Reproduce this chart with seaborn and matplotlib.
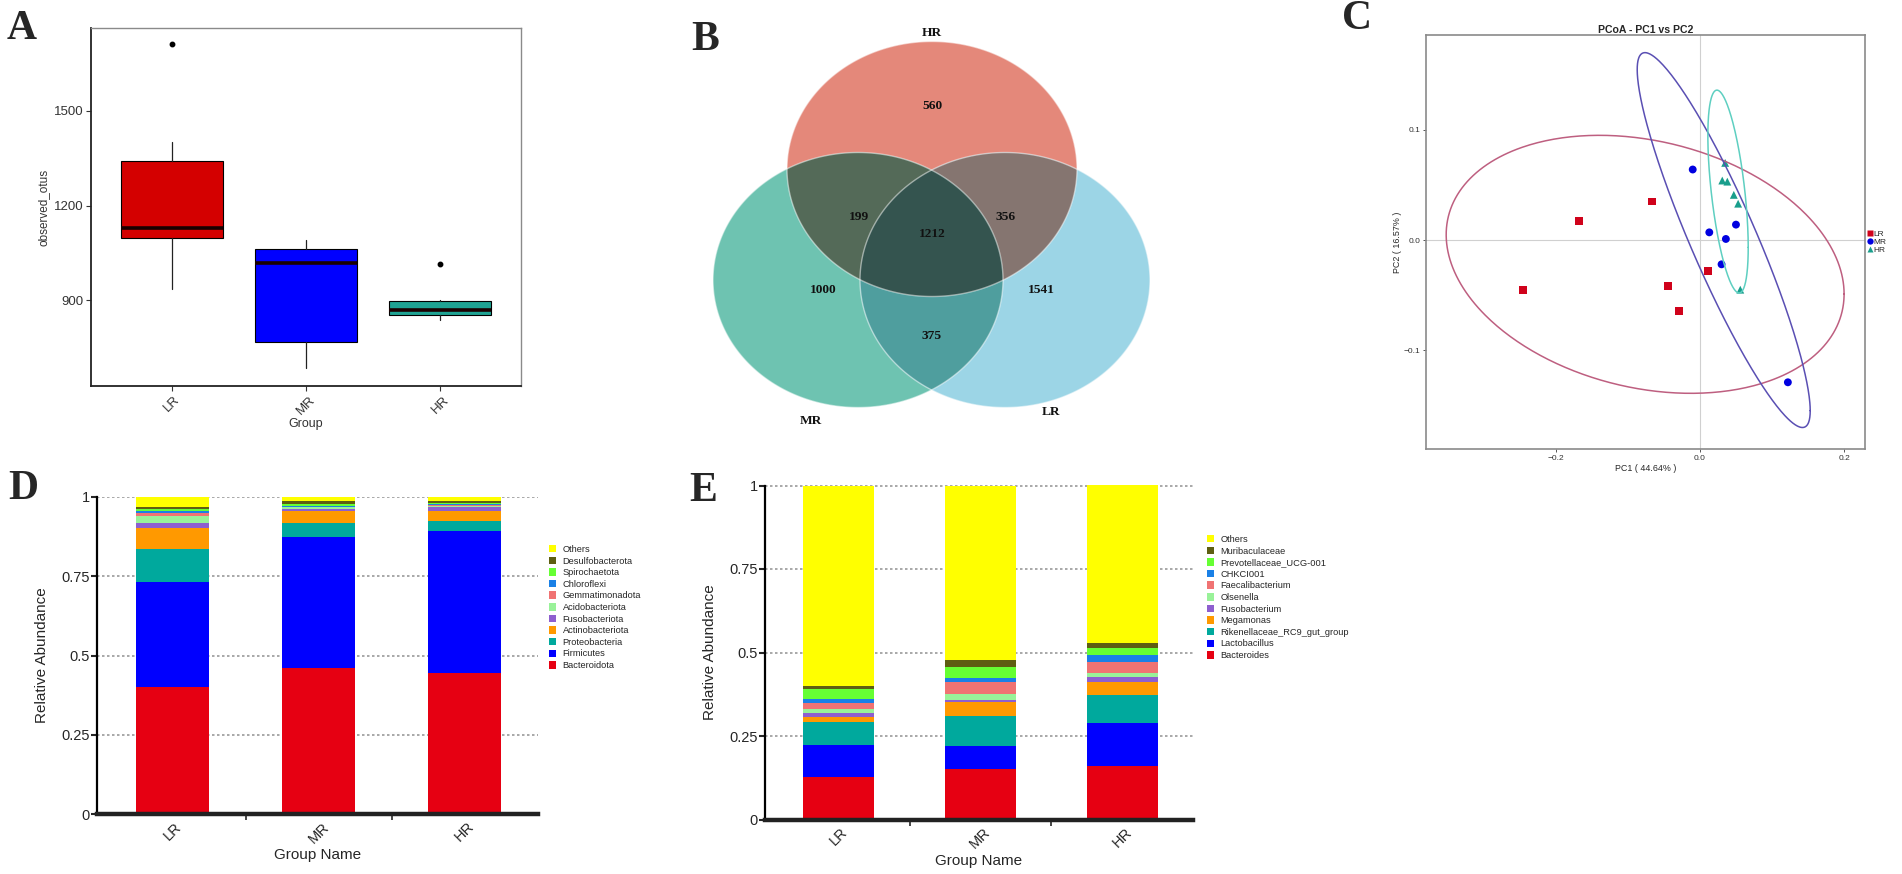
import matplotlib.pyplot as plt
import numpy as np
import pandas as pd
import seaborn as sns
from matplotlib.patches import Polygon, Patch
from matplotlib.path import Path

sns.set_style('white')
plt.rcParams['font.family'] = ['Liberation Sans', 'DejaVu Sans']

# ---------------- data ----------------
groups = ['LR', 'MR', 'HR']
group_colors = ['#D40000', '#0000FF', '#1FA393']

# A: observed_otus box summary
otus_low = [934, 684, 838]
otus_q1 = [1096, 769, 852]
otus_median = [1128, 1018, 870]
otus_q3 = [1342, 1063, 896]
otus_high = [1400, 1090, 900]
otus_outliers = [[1712], [], [1015]]

# B: Venn counts
venn_regions = ['HR', 'MR', 'LR', 'HR&MR', 'HR&LR', 'MR&LR', 'HR&MR&LR']
venn_counts = [560, 1000, 1541, 199, 356, 375, 1212]

# C: PCoA
pc1_lr = [-0.168, -0.067, -0.245, -0.044, -0.029, 0.011]
pc2_lr = [0.017, 0.035, -0.045, -0.042, -0.064, -0.028]
pc1_mr = [-0.010, 0.013, 0.036, 0.050, 0.030, 0.122]
pc2_mr = [0.064, 0.007, 0.001, 0.014, -0.022, -0.129]
pc1_hr = [0.035, 0.031, 0.038, 0.047, 0.053, 0.056]
pc2_hr = [0.070, 0.054, 0.053, 0.041, 0.033, -0.045]
# group ellipses: centre, half range in x / y, correlation
ell_cx = [-0.076, 0.033, 0.039]
ell_cy = [-0.022, 0.000, 0.044]
ell_sx = [0.276, 0.120, 0.028]
ell_sy = [0.117, 0.170, 0.092]
ell_r = [-0.23, -0.91, -0.55]

# D: phylum level (bottom to top)
phyla = ['Bacteroidota', 'Firmicutes', 'Proteobacteria', 'Actinobacteriota',
         'Fusobacteriota', 'Acidobacteriota', 'Gemmatimonadota', 'Chloroflexi',
         'Spirochaetota', 'Desulfobacterota', 'Others']
phyla_lr = [0.400, 0.333, 0.104, 0.065, 0.017, 0.020, 0.010, 0.007, 0.006, 0.007, 0.031]
phyla_mr = [0.460, 0.415, 0.042, 0.040, 0.006, 0.004, 0.003, 0.003, 0.004, 0.010, 0.013]
phyla_hr = [0.446, 0.447, 0.031, 0.033, 0.011, 0.005, 0.003, 0.002, 0.004, 0.006, 0.012]

# E: genus level (bottom to top)
genera = ['Bacteroides', 'Lactobacillus', 'Rikenellaceae_RC9_gut_group', 'Megamonas',
          'Fusobacterium', 'Olsenella', 'Faecalibacterium', 'CHKCI001',
          'Prevotellaceae_UCG-001', 'Muribaculaceae', 'Others']
genera_lr = [0.128, 0.095, 0.068, 0.017, 0.010, 0.012, 0.020, 0.011, 0.030, 0.010, 0.599]
genera_mr = [0.151, 0.070, 0.090, 0.040, 0.007, 0.018, 0.035, 0.012, 0.033, 0.022, 0.522]
genera_hr = [0.161, 0.128, 0.085, 0.037, 0.015, 0.012, 0.033, 0.022, 0.020, 0.015, 0.472]

taxa_colors = ['#E60012', '#0000FF', '#00A99D', '#FF9900', '#8E5FCF', '#99F299',
               '#F07373', '#1A80E6', '#66FF33', '#5E5E12', '#FFFF00']

# ---------------- layout ----------------
W, H = 1902, 874


def px_rect(x0, y0, x1, y1):
    return [x0 / W, 1 - y1 / H, (x1 - x0) / W, (y1 - y0) / H]


fig = plt.figure(figsize=(W / 100, H / 100), dpi=100)

# overlay in pixel coords for panel letters and the Venn diagram
ov = fig.add_axes([0, 0, 1, 1], zorder=-1)
ov.set_xlim(0, W)
ov.set_ylim(H, 0)
ov.axis('off')

letter_font = dict(family='Liberation Serif', fontweight='bold', fontsize=30,
                   ha='center', va='center')
for lab, (lx, ly) in zip('ABCDE', [(22, 29), (705, 40), (1357, 19), (23, 489), (703, 491)]):
    ov.text(lx, ly, lab, **letter_font)

# ---------------- A ----------------
axa = fig.add_axes(px_rect(91, 28, 521, 386))
stats = []
for i in range(3):
    stats.append(dict(whislo=otus_low[i], q1=otus_q1[i], med=otus_median[i],
                      q3=otus_q3[i], whishi=otus_high[i], fliers=otus_outliers[i]))
bp = axa.bxp(stats, positions=range(3), widths=0.76, patch_artist=True, showcaps=False,
             boxprops=dict(linewidth=0.8, edgecolor='black'),
             medianprops=dict(color='#1a0000', linewidth=2.6),
             whiskerprops=dict(linewidth=0.9, color='#222222'),
             flierprops=dict(marker='o', markersize=3.2, markerfacecolor='black',
                             markeredgecolor='black'))
for patch, c in zip(bp['boxes'], group_colors):
    patch.set_facecolor(c)
axa.set_xlim(-0.6, 2.6)
axa.set_ylim(628, 1763)
axa.set_yticks([900, 1200, 1500])
axa.set_xticks(range(3), groups, rotation=45, ha='center')
axa.tick_params(labelsize=9.5, length=3.5, width=0.8, color='#333333',
                labelcolor='#333333', pad=2, direction='out', bottom=True, left=True)
axa.set_ylabel('observed_otus', fontsize=8.5, color='#333333', labelpad=3)
axa.set_xlabel('Group', fontsize=9, color='#333333', labelpad=1)
for side in ['top', 'right']:
    axa.spines[side].set_color('#8a8a8a')
    axa.spines[side].set_linewidth(1.0)
for side in ['left', 'bottom']:
    axa.spines[side].set_color('#222222')
    axa.spines[side].set_linewidth(1.3)

# ---------------- B (Venn) ----------------
venn_centers = {'HR': (932, 169), 'MR': (858, 280), 'LR': (1005, 280)}
venn_w, venn_h = 290, 255
solo_colors = {'HR': '#E4887A', 'MR': '#6EC3B1', 'LR': '#9CD5E6'}
tt = np.linspace(0, 2 * np.pi, 720, endpoint=False)


def ell_pts(name):
    cx, cy = venn_centers[name]
    return np.column_stack([cx + venn_w / 2 * np.cos(tt), cy + venn_h / 2 * np.sin(tt)])


def ell_patch(name, **kw):
    return Polygon(ell_pts(name), closed=True, transform=ov.transData, **kw)


for name in ['HR', 'MR', 'LR']:
    ov.add_patch(ell_patch(name, facecolor=solo_colors[name], edgecolor='none'))

for a, b, col in [('HR', 'LR', '#857570'), ('MR', 'LR', '#4F9E9E')]:
    p = ell_patch(b, facecolor=col, edgecolor='none')
    ov.add_patch(p)
    p.set_clip_path(ell_patch(a))

pa, pb = ell_pts('HR'), ell_pts('MR')
inter = np.vstack([pa[Path(pb).contains_points(pa)], pb[Path(pa).contains_points(pb)]])
ctr = inter.mean(axis=0)
inter = inter[np.argsort(np.arctan2(inter[:, 1] - ctr[1], inter[:, 0] - ctr[0]))]
ov.add_patch(Polygon(inter, closed=True, facecolor='#546A58', edgecolor='none'))
tri = Polygon(inter, closed=True, facecolor='#34544F', edgecolor='none')
ov.add_patch(tri)
tri.set_clip_path(ell_patch('LR'))

for name in ['HR', 'MR', 'LR']:
    ov.add_patch(ell_patch(name, facecolor='none', edgecolor='white', alpha=0.5, linewidth=1))

venn_font = dict(family='Liberation Serif', fontweight='bold', fontsize=9.6,
                 ha='center', va='center', color='#111111')
count_pos = {'HR': (932, 106), 'MR': (823, 290), 'LR': (1041, 290), 'HR&MR': (859, 217),
             'HR&LR': (1006, 217), 'MR&LR': (932, 336), 'HR&MR&LR': (932, 234)}
for reg, cnt in zip(venn_regions, venn_counts):
    ov.text(*count_pos[reg], str(cnt), **venn_font)
for lab, pos in [('HR', (932, 33)), ('MR', (811, 421)), ('LR', (1051, 412))]:
    ov.text(*pos, lab, **venn_font)

# ---------------- C (PCoA) ----------------
axc = fig.add_axes(px_rect(1426, 35, 1865, 449))
pcoa = pd.DataFrame({'PC1': pc1_lr + pc1_mr + pc1_hr,
                     'PC2': pc2_lr + pc2_mr + pc2_hr,
                     'Group': np.repeat(groups, 6)})
axc.axhline(0, color='#d0d0d0', lw=0.8, zorder=0)
axc.axvline(0, color='#d0d0d0', lw=0.8, zorder=0)
ell_colors = ['#BE5F80', '#5A4FB3', '#5ECFC1']
t = np.linspace(0, 2 * np.pi, 400)
for i in range(3):
    ex = ell_cx[i] + ell_sx[i] * np.cos(t)
    ey = ell_cy[i] + ell_sy[i] * (ell_r[i] * np.cos(t) + np.sqrt(1 - ell_r[i] ** 2) * np.sin(t))
    axc.plot(ex, ey, color=ell_colors[i], lw=1.1)
sns.scatterplot(data=pcoa, x='PC1', y='PC2', hue='Group', style='Group', hue_order=groups,
                style_order=groups, markers={'LR': 's', 'MR': 'o', 'HR': '^'},
                palette=['#D0021B', '#0000E0', '#199E8C'], s=32, edgecolor='none', ax=axc)
axc.set_xlim(-0.38, 0.229)
axc.set_ylim(-0.1895, 0.186)
axc.set_xticks([-0.2, 0.0, 0.2])
axc.set_yticks([-0.1, 0.0, 0.1])
axc.tick_params(labelsize=6, length=2.5, width=0.7, pad=1.5, color='#555555',
                labelcolor='#333333', bottom=True, left=True)
axc.set_xlabel('PC1 ( 44.64% )', fontsize=6.4, labelpad=2)
axc.set_ylabel('PC2 ( 16.57% )', fontsize=6.4, labelpad=1)
axc.set_title('PCoA - PC1 vs PC2', fontsize=7.6, fontweight='bold', pad=1.5)
for sp in axc.spines.values():
    sp.set_color('#8a8a8a')
    sp.set_linewidth(1.2)
sns.move_legend(axc, 'center left', bbox_to_anchor=(1.0, 0.5), frameon=False, title=None,
                fontsize=6, markerscale=0.8, handletextpad=0.05, labelspacing=0.05,
                borderaxespad=0.1, borderpad=0, handlelength=0.9)


# ---------------- D / E stacked bars ----------------
def stacked_panel(rect, names, lr, mr, hr, legend_xy):
    ax = fig.add_axes(px_rect(*rect))
    df = pd.DataFrame({'pos': np.repeat([0, 1, 2], len(names)),
                       'Taxon': names * 3,
                       'Abundance': lr + mr + hr})
    # seaborn stacks the first hue level on top, so feed the order top-down
    sns.histplot(data=df, x='pos', weights='Abundance', hue='Taxon', hue_order=names[::-1],
                 palette=taxa_colors[::-1], multiple='stack', discrete=True, shrink=0.5,
                 alpha=1, linewidth=0, legend=False, ax=ax)
    ax.set_xlim(-0.52, 2.5)
    ax.set_ylim(0, 1)
    ax.set_yticks([0, 0.25, 0.5, 0.75, 1], ['0', '0.25', '0.5', '0.75', '1'])
    ax.set_xticks([0, 1, 2], groups, rotation=45, ha='center')
    ax.set_xticks([0.5, 1.5], minor=True)
    ax.tick_params(axis='x', which='major', length=0, labelsize=10.5, pad=4)
    ax.tick_params(axis='x', which='minor', length=4, width=1.2, bottom=True)
    ax.tick_params(axis='y', length=4, width=1.5, labelsize=10.5, pad=1, left=True)
    ax.yaxis.grid(True, linestyle=(0, (1.5, 1.5)), color='#9a9a9a', lw=1.2)
    ax.xaxis.grid(False)
    ax.set_axisbelow(True)
    for side in ['top', 'right']:
        ax.spines[side].set_visible(False)
    ax.spines['left'].set_linewidth(1.6)
    ax.spines['left'].set_color('black')
    ax.spines['bottom'].set_linewidth(3.2)
    ax.spines['bottom'].set_color('#222222')
    ax.set_ylabel('Relative Abundance', fontsize=11, labelpad=9)
    ax.set_xlabel('Group Name', fontsize=11, labelpad=2)
    handles = [Patch(facecolor=c, edgecolor='none') for c in taxa_colors][::-1]
    ax.legend(handles, names[::-1], loc='upper left',
              bbox_to_anchor=(legend_xy[0] / W, 1 - legend_xy[1] / H),
              bbox_transform=fig.transFigure, frameon=False, fontsize=6.7,
              handlelength=0.75, handleheight=0.85, handletextpad=0.7,
              labelspacing=0.28, borderpad=0, borderaxespad=0)
    return ax


stacked_panel((97, 497, 537.6, 814), phyla, phyla_lr, phyla_mr, phyla_hr, (549, 545))
stacked_panel((765, 485.5, 1193, 819.5), genera, genera_lr, genera_mr, genera_hr, (1207, 535))

fig.savefig('out.png', dpi=100, facecolor='white')
